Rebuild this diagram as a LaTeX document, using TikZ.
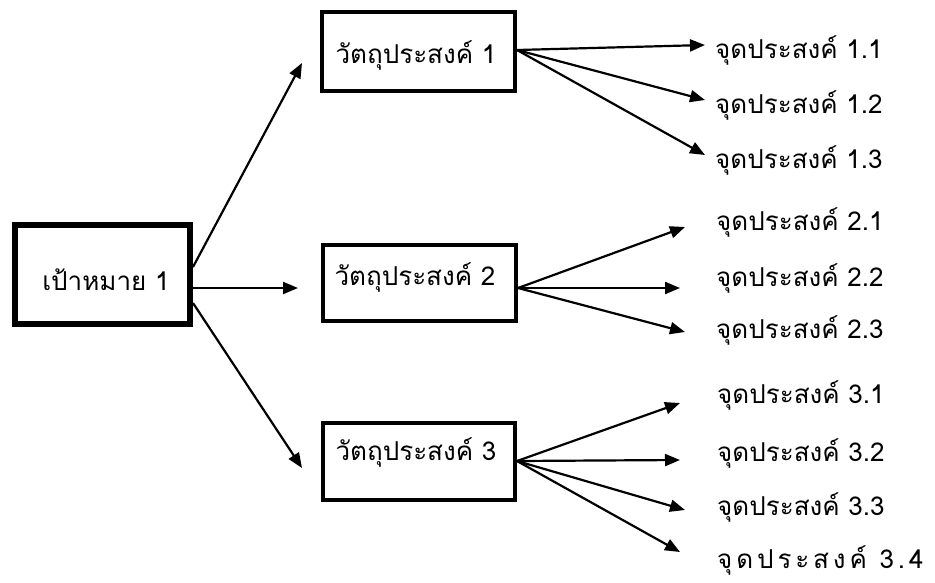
\documentclass[tikz,border=0pt]{standalone}
\usepackage{fontspec}
\newfontfamily\thaifont[Script=Thai]{Loma}
\usetikzlibrary{arrows.meta}
\begin{document}
\begin{tikzpicture}[x=1pt,y=-1pt,
  box/.style={draw, line width=4pt, inner sep=0pt},
  goalbox/.style={draw, line width=6pt, inner sep=0pt},
  txt/.style={inner sep=0pt, font=\thaifont\fontsize{26}{30}\selectfont},
  lab/.style={txt, anchor=west},
  arr/.style={line width=2.2pt, -{Triangle[length=15pt,width=12pt]}}]
\useasboundingbox (0,0) rectangle (935,582);
% boxes
\node[goalbox, minimum width=175pt, minimum height=99pt] (g) at (102.5,274.5) {};
\node[box, minimum width=193pt, minimum height=79pt] (b1) at (418.5,51.5) {};
\node[box, minimum width=193pt, minimum height=76pt] (b2) at (419.5,283) {};
\node[box, minimum width=192pt, minimum height=77pt] (b3) at (419,461.5) {};
% box texts
\node[txt] (gt) at (106,280) {เป้าหมาย 1};
\node[txt] (b1t) at (416,55) {วัตถุประสงค์ 1};
\node[txt] (b2t) at (415,277) {วัตถุประสงค์ 2};
\node[txt] (b3t) at (416,452) {วัตถุประสงค์ 3};
% labels
\node[lab] (l11) at (715,50) {จุดประสงค์ 1.1};
\node[lab] (l12) at (715,105) {จุดประสงค์ 1.2};
\node[lab] (l13) at (715,160) {จุดประสงค์ 1.3};
\node[lab] (l21) at (716,222) {จุดประสงค์ 2.1};
\node[lab] (l22) at (716,278) {จุดประสงค์ 2.2};
\node[lab] (l23) at (716,330) {จุดประสงค์ 2.3};
\node[lab] (l31) at (717,395) {จุดประสงค์ 3.1};
\node[lab] (l32) at (717,453) {จุดประสงค์ 3.2};
\node[lab] (l33) at (717,507) {จุดประสงค์ 3.3};
\node[lab, font=\thaifont\fontsize{26}{30}\selectfont\addfontfeature{LetterSpace=15}] (l34) at (717,560) {จุดประสงค์ 3.4};
% free ends of the goal arrows
\coordinate (t1) at (302,63);
\coordinate (t2) at (298,288);
\coordinate (t3) at (302,468);
% goal arrows
\draw[arr] ([yshift=7.5pt]g.east) -- (t1);
\draw[arr] ([yshift=-13.5pt]g.east) -- (t2);
\draw[arr] ([yshift=-28.5pt]g.east) -- (t3);
% objective 1
\draw[arr] ([yshift=1.5pt]b1.east) -- ([xshift=-10pt,yshift=5pt]l11.west);
\draw[arr] ([yshift=1.5pt]b1.east) -- ([xshift=-10pt,yshift=5pt]l12.west);
\draw[arr] ([yshift=1.5pt]b1.east) -- ([xshift=-10pt,yshift=5pt]l13.west);
% objective 2
\draw[arr] ([yshift=-5pt]b2.east) -- ([xshift=-31pt,yshift=-5pt]l21.west);
\draw[arr] ([yshift=-5pt]b2.east) -- ([xshift=-36pt,yshift=-10pt]l22.west);
\draw[arr] ([yshift=-5pt]b2.east) -- ([xshift=-31pt,yshift=-2pt]l23.west);
% objective 3
\draw[arr] ([yshift=0.5pt]b3.east) -- ([xshift=-37pt,yshift=-8pt]l31.west);
\draw[arr] ([yshift=0.5pt]b3.east) -- ([xshift=-37pt,yshift=-7pt]l32.west);
\draw[arr] ([yshift=0.5pt]b3.east) -- ([xshift=-32pt,yshift=-3pt]l33.west);
\draw[arr] ([yshift=0.5pt]b3.east) -- ([xshift=-37pt,yshift=8pt]l34.west);
\end{tikzpicture}
\end{document}
